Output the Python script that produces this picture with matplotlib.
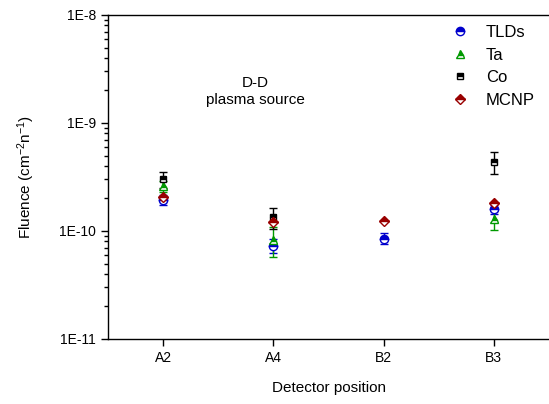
import numpy as np
import matplotlib
matplotlib.use("Agg")
import matplotlib.pyplot as plt
from matplotlib.ticker import LogLocator, NullFormatter, FixedLocator
from matplotlib.lines import Line2D

plt.rcParams['font.family'] = ['Liberation Sans', 'DejaVu Sans']
plt.rcParams['mathtext.fontset'] = 'custom'
plt.rcParams['mathtext.rm'] = 'Liberation Sans'
plt.rcParams['mathtext.default'] = 'regular'

positions = ['A2', 'A4', 'B2', 'B3']
tld = [1.95e-10, 7.3e-11, 8.5e-11, 1.6e-10]
tld_err = [2.0e-11, 1.1e-11, 1.0e-11, 1.5e-11]
ta = [2.6e-10, 8.3e-11, np.nan, 1.28e-10]
ta_err = [3.0e-11, 2.6e-11, np.nan, 2.5e-11]
co = [3.0e-10, 1.35e-10, np.nan, 4.4e-10]
co_err = [5.0e-11, 3.0e-11, np.nan, 1.0e-10]
mcnp = [2.05e-10, 1.22e-10, 1.25e-10, 1.8e-10]

fig = plt.figure(figsize=(5.49, 4.04), dpi=100)
ax = fig.add_axes([108/549, 1-339/404, 1-108/549, (339-15)/404])

x = np.arange(len(positions))
series = [
    ('TLDs', tld, tld_err, 'o', '#0000cc', 6),
    ('Ta', ta, ta_err, '^', '#009900', 6),
    ('Co', co, co_err, 's', '#000000', 5),
    ('MCNP', mcnp, None, 'D', '#990000', 5.5),
]
handles = []
for name, vals, err, m, c, ms in series:
    ax.errorbar(x, vals, yerr=err, fmt=m, color=c, ecolor=c, elinewidth=1,
                capsize=3, capthick=1, markersize=ms, fillstyle='top',
                markerfacecoloralt='white', markeredgecolor=c,
                markeredgewidth=1)
    handles.append(Line2D([], [], linestyle='none', marker=m, color=c,
                          markersize=ms, fillstyle='top',
                          markerfacecoloralt='white', markeredgecolor=c,
                          markeredgewidth=1, label=name))

ax.set_yscale('log')
ax.set_ylim(1e-11, 1e-8)
ax.set_xlim(-0.5, 3.5)
ax.set_xticks(x)
ax.set_xticklabels(positions)
ax.yaxis.set_major_locator(FixedLocator([1e-11, 1e-10, 1e-9, 1e-8]))
ax.set_yticklabels(['1E-11', '1E-10', '1E-9', '1E-8'])
ax.yaxis.set_minor_locator(LogLocator(base=10, subs=np.arange(2, 10)))
ax.yaxis.set_minor_formatter(NullFormatter())
ax.tick_params(axis='both', which='major', direction='out', length=5, width=1, labelsize=10)
ax.tick_params(axis='y', which='minor', direction='out', length=3, width=1)
ax.spines['right'].set_visible(False)
for s in ['left', 'bottom', 'top']:
    ax.spines[s].set_linewidth(1)

ax.set_xlabel('Detector position', fontsize=11, labelpad=12)
ax.set_ylabel('Fluence (cm$^{-2}$n$^{-1}$)', fontsize=11, labelpad=16)

fig.text(255/549, 1-83/404, 'D-D', ha='center', va='center', fontsize=11)
fig.text(255/549, 1-100/404, 'plasma source', ha='center', va='center', fontsize=11)

ax.legend(handles=handles, loc='upper left', bbox_to_anchor=(444/549, 1-22/404),
          bbox_transform=fig.transFigure, frameon=False,
          fontsize=12, handletextpad=0.8, labelspacing=0.45,
          handlelength=1.5, borderaxespad=0.0, borderpad=0.2)

fig.savefig('out.png', dpi=100)
